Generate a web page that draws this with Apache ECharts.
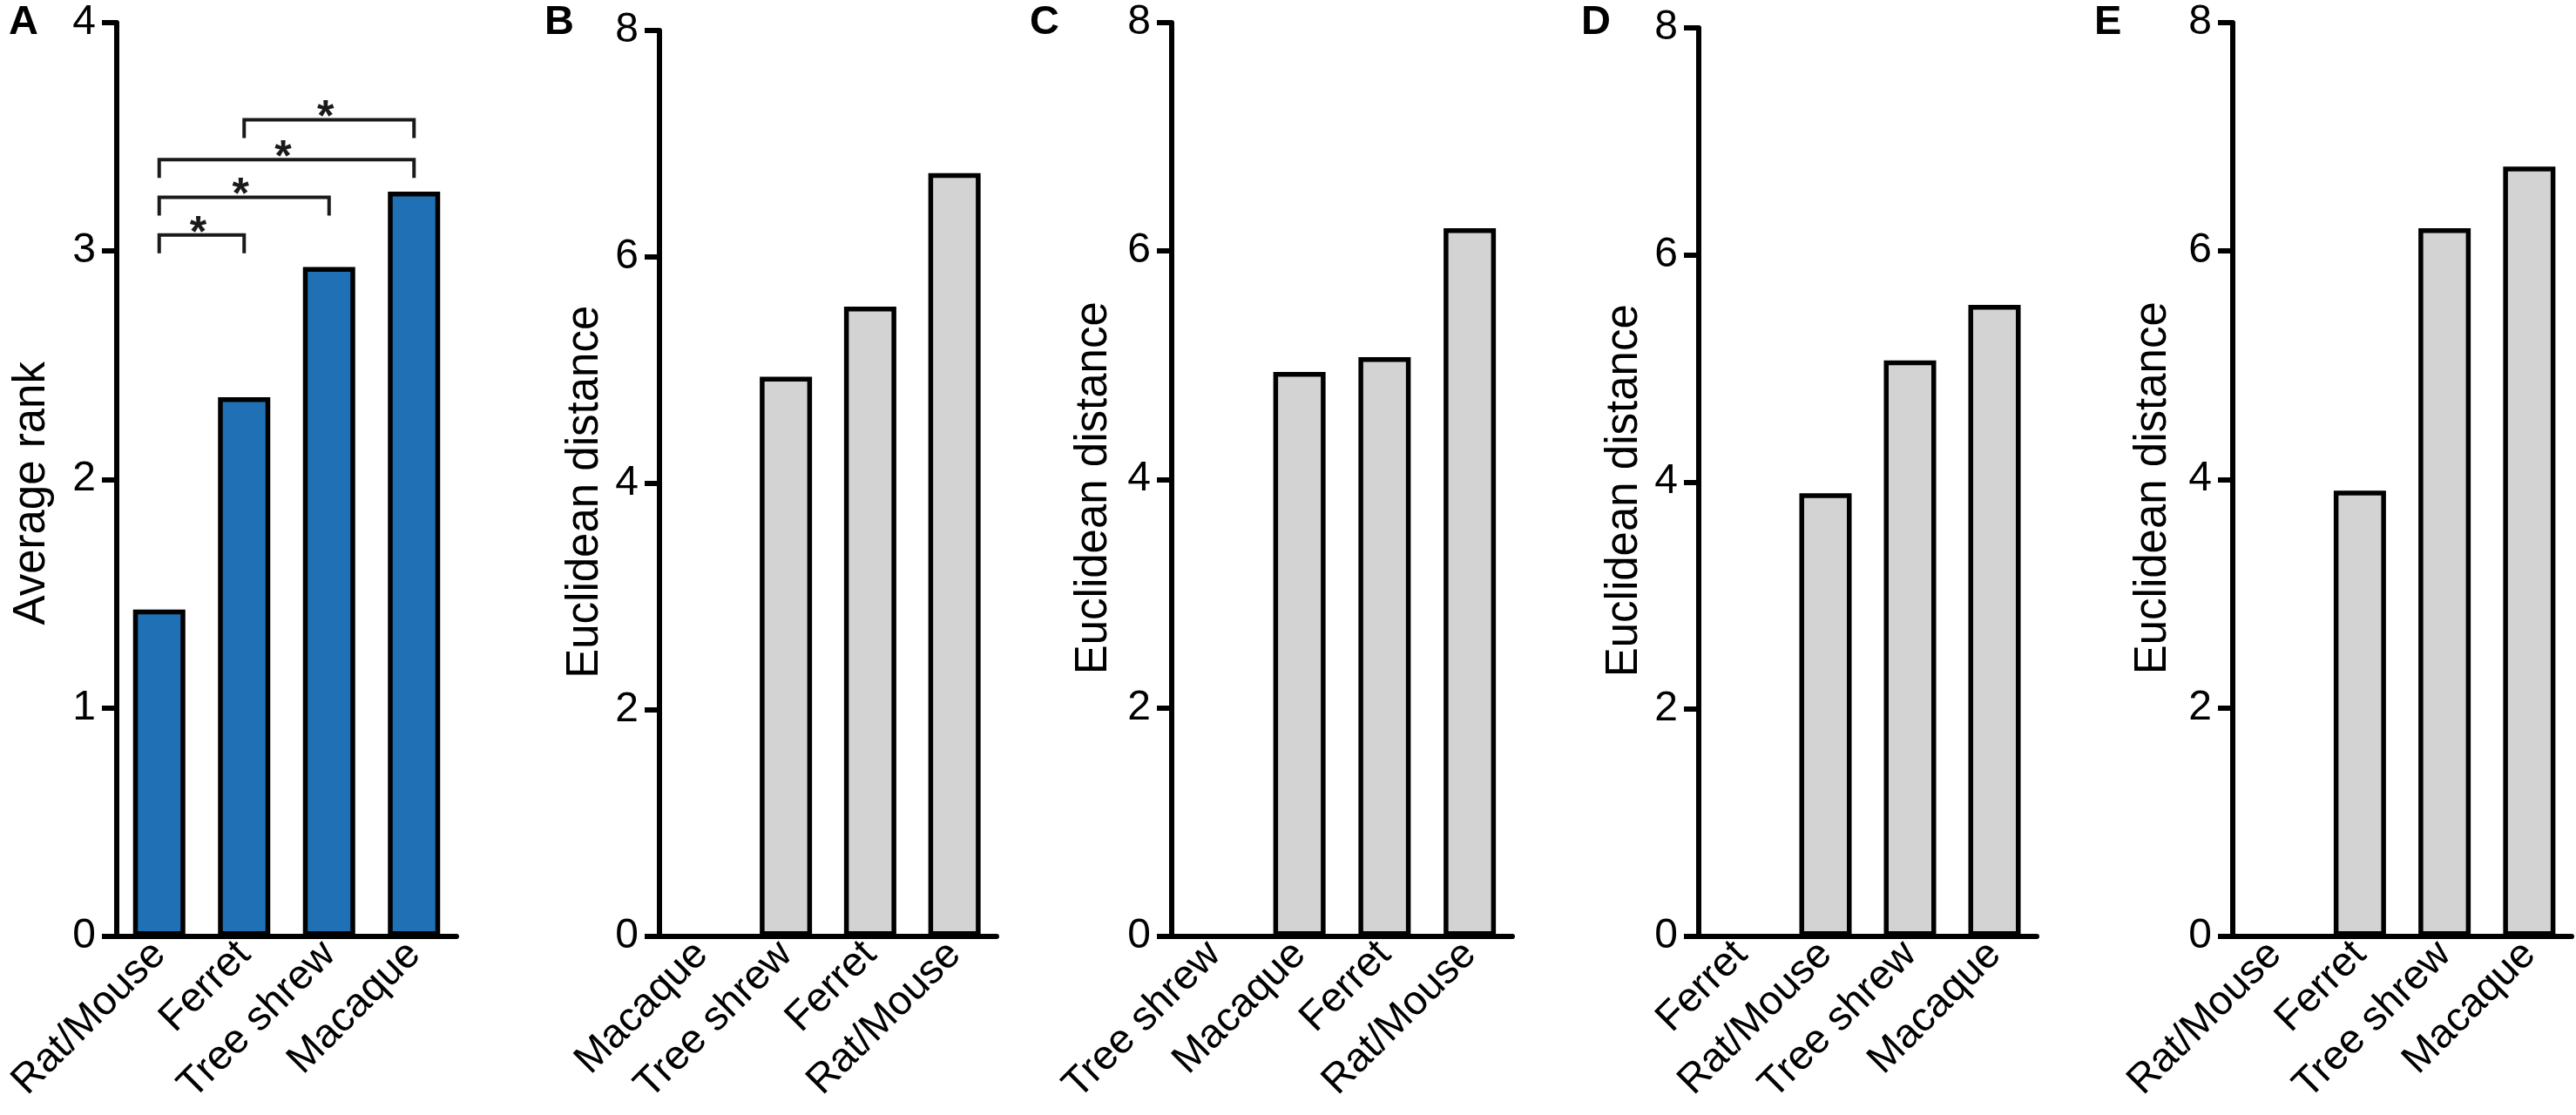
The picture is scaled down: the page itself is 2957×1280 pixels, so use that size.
<!DOCTYPE html>
<html>
<head>
<meta charset="utf-8">
<script src="https://cdn.jsdelivr.net/npm/echarts@6/dist/echarts.min.js"></script>
<style>
  html, body { margin: 0; padding: 0; background: #fff; }
  #main { width: 2957px; height: 1280px; }
</style>
</head>
<body>
<div id="main"></div>
<script>
// panel A: average rank
const rankCats = ["Rat/Mouse", "Ferret", "Tree shrew", "Macaque"];
const rankVals = [1.43, 2.36, 2.93, 3.26];
// significance brackets in panel A: [from index, to index, level]
const bracketPairs = [[0, 1], [0, 2], [0, 3], [1, 3]];
const bracketLevels = [3.07, 3.235, 3.4, 3.575];

// panels B-E: euclidean distance
const catsB = ["Macaque", "Tree shrew", "Ferret", "Rat/Mouse"];
const valsB = [0, 4.94, 5.56, 6.74];
const catsC = ["Tree shrew", "Macaque", "Ferret", "Rat/Mouse"];
const valsC = [0, 4.94, 5.07, 6.2];
const catsD = ["Ferret", "Rat/Mouse", "Tree shrew", "Macaque"];
const valsD = [0, 3.9, 5.07, 5.56];
const catsE = ["Rat/Mouse", "Ferret", "Tree shrew", "Macaque"];
const valsE = [0, 3.9, 6.2, 6.74];

const panelLetters = ["A", "B", "C", "D", "E"];

const FONT = "'Liberation Sans', Arial, Helvetica, sans-serif";
const myChart = echarts.init(document.getElementById("main"));

// layout of each panel (pixels)
const panels = [
  { cats: rankCats, vals: rankVals, max: 4, interval: 1, name: "Average rank", color: "#1f70b5",
    grid: { left: 134, top: 26, width: 390, height: 1048.5 }, gap: 72, shift: 32, letterX: 10 },
  { cats: catsB, vals: valsB, max: 8, interval: 2, name: "Euclidean distance", color: "#d3d3d3",
    grid: { left: 757, top: 35, width: 387, height: 1039.5 }, gap: 60, shift: 20, letterX: 625 },
  { cats: catsC, vals: valsC, max: 8, interval: 2, name: "Euclidean distance", color: "#d3d3d3",
    grid: { left: 1345, top: 26, width: 391, height: 1048.5 }, gap: 64, shift: 20, letterX: 1182 },
  { cats: catsD, vals: valsD, max: 8, interval: 2, name: "Euclidean distance", color: "#d3d3d3",
    grid: { left: 1950, top: 32, width: 388, height: 1042.5 }, gap: 60, shift: 20, letterX: 1815 },
  { cats: catsE, vals: valsE, max: 8, interval: 2, name: "Euclidean distance", color: "#d3d3d3",
    grid: { left: 2563, top: 26, width: 389, height: 1048.5 }, gap: 66, shift: 20, letterX: 2404 },
];

const grids = [], xAxes = [], yAxes = [], series = [], graphics = [];

panels.forEach(function (p, i) {
  grids.push(Object.assign({ containLabel: false }, p.grid));
  xAxes.push({
    type: "category",
    gridIndex: i,
    data: p.cats,
    axisLine: { lineStyle: { color: "#000", width: 6 } },
    axisTick: { show: false },
    axisLabel: { rotate: 45, margin: 14, color: "#000", fontSize: 47, fontFamily: FONT, interval: 0 },
  });
  yAxes.push({
    type: "value",
    gridIndex: i,
    min: 0,
    max: p.max,
    interval: p.interval,
    name: p.name,
    nameLocation: "middle",
    nameGap: p.gap,
    nameTextStyle: { color: "#000", fontSize: 51, fontFamily: FONT, padding: [0, p.shift, 0, 0] },
    axisLine: { show: true, lineStyle: { color: "#000", width: 6 } },
    axisTick: { show: true, length: 17, lineStyle: { color: "#000", width: 6 } },
    axisLabel: { margin: 24, color: "#000", fontSize: 48, fontFamily: FONT },
    splitLine: { show: false },
  });
  series.push({
    type: "bar",
    xAxisIndex: i,
    yAxisIndex: i,
    barWidth: 60,
    animation: false,
    data: p.vals.map(function (v) {
      return { value: v, itemStyle: { borderWidth: v > 0 ? 5.5 : 0 } };
    }),
    itemStyle: { color: p.color, borderColor: "#000", borderWidth: 5.5 },
  });
  graphics.push({
    type: "text",
    left: p.letterX,
    top: 3,
    style: { text: panelLetters[i], font: "bold 47px " + FONT, fill: "#000" },
  });
});

// brackets with asterisks over panel A
series.push({
  type: "custom",
  xAxisIndex: 0,
  yAxisIndex: 0,
  animation: false,
  encode: { x: [0, 1], y: 2 },
  data: bracketPairs.map(function (pr, k) { return [pr[0], pr[1], bracketLevels[k]]; }),
  renderItem: function (params, api) {
    const a = api.coord([api.value(0), api.value(2)]);
    const b = api.coord([api.value(1), api.value(2)]);
    const leg = 21;
    return {
      type: "group",
      children: [
        {
          type: "polyline",
          shape: { points: [[a[0], a[1] + leg], [a[0], a[1]], [b[0], b[1]], [b[0], b[1] + leg]] },
          style: { stroke: "#1a1a1a", lineWidth: 4, fill: null },
        },
        {
          type: "text",
          style: {
            text: "*", x: (a[0] + b[0]) / 2 - 4, y: a[1] - 1,
            align: "center", verticalAlign: "middle",
            font: "bold 50px " + FONT, fill: "#1a1a1a",
          },
        },
      ],
    };
  },
});

const option = {
  backgroundColor: "#fff",
  animation: false,
  grid: grids,
  xAxis: xAxes,
  yAxis: yAxes,
  series: series,
  graphic: graphics,
};

myChart.setOption(option);
</script>
</body>
</html>
